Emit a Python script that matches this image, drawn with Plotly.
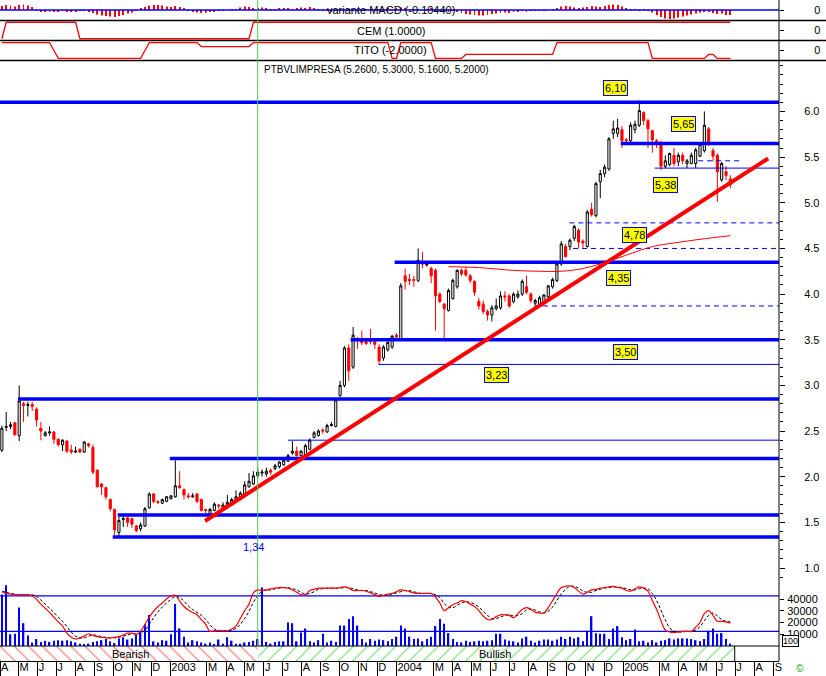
import pandas as pd
import plotly.graph_objects as go

# ------------------------------------------------------------------ data
week_start = "2002-04-04"          # first weekly candle

opens = [
    2.29, 2.54, 2.55, 2.59, 2.45, 2.80, 2.78, 2.79, 2.74, 2.53,
    2.45, 2.48, 2.49, 2.41, 2.35, 2.39, 2.29, 2.27, 2.30, 2.27,
    2.36, 2.32, 2.07, 1.92, 1.88, 1.75, 1.64, 1.39, 1.53, 1.55,
    1.54, 1.46, 1.43, 1.46, 1.66, 1.81, 1.73, 1.71, 1.73, 1.76,
    1.78, 1.90, 1.86, 1.79, 1.78, 1.81, 1.75, 1.64, 1.59, 1.63,
    1.69, 1.65, 1.68, 1.70, 1.73, 1.78, 1.81, 1.89, 1.92, 2.01,
    2.04, 2.03, 2.07, 2.09, 2.11, 2.13, 2.17, 2.26, 2.28, 2.23,
    2.23, 2.30, 2.43, 2.45, 2.51, 2.49, 2.56, 2.55, 2.89, 3.00,
    3.41, 3.20, 3.50, 3.49, 3.48, 3.49, 3.48, 3.42, 3.30, 3.39,
    3.42, 3.55, 3.51, 4.20, 4.16, 4.16, 4.15, 4.34, 4.32, 4.28,
    4.26, 4.00, 3.89, 3.82, 3.95, 4.08, 4.26, 4.26, 4.20, 4.14,
    3.92, 3.89, 3.81, 3.77, 3.84, 3.85, 3.98, 3.98, 3.92, 3.97,
    4.00, 4.08, 4.00, 3.90, 3.88, 3.90, 3.97, 4.08, 4.15, 4.33,
    4.52, 4.52, 4.61, 4.70, 4.58, 4.52, 4.93, 4.86, 5.23, 5.32,
    5.37, 5.76, 5.76, 5.80, 5.69, 5.68, 5.80, 5.85, 5.99, 5.90,
    5.79, 5.68, 5.66, 5.40, 5.42, 5.52, 5.45, 5.52, 5.43, 5.43,
    5.43, 5.51, 5.57, 5.81, 5.57, 5.52, 5.25, 5.34, 5.26]
highs = [
    2.56, 2.71, 2.60, 2.60, 3.00, 2.82, 2.82, 2.82, 2.76, 2.60,
    2.50, 2.55, 2.50, 2.42, 2.41, 2.40, 2.35, 2.33, 2.31, 2.39,
    2.37, 2.35, 2.08, 1.93, 1.89, 1.76, 1.65, 1.56, 1.57, 1.56,
    1.55, 1.47, 1.50, 1.67, 1.83, 1.82, 1.74, 1.76, 1.79, 1.80,
    2.18, 2.06, 1.87, 1.82, 1.82, 1.82, 1.76, 1.65, 1.66, 1.72,
    1.70, 1.72, 1.80, 1.77, 1.85, 1.84, 1.95, 2.04, 2.06, 2.10,
    2.08, 2.10, 2.09, 2.14, 2.17, 2.20, 2.25, 2.39, 2.33, 2.29,
    2.36, 2.42, 2.50, 2.52, 2.53, 2.58, 2.60, 2.86, 3.05, 3.43,
    3.45, 3.64, 3.53, 3.60, 3.51, 3.62, 3.50, 3.45, 3.44, 3.49,
    3.55, 3.57, 4.12, 4.28, 4.22, 4.20, 4.50, 4.46, 4.36, 4.30,
    4.28, 4.02, 3.90, 4.06, 4.17, 4.27, 4.28, 4.30, 4.22, 4.15,
    3.96, 3.93, 3.83, 3.88, 3.95, 4.03, 4.03, 4.00, 4.02, 4.04,
    4.16, 4.20, 4.02, 3.95, 3.98, 4.00, 4.10, 4.18, 4.35, 4.58,
    4.55, 4.61, 4.76, 4.72, 4.60, 4.92, 5.00, 5.23, 5.36, 5.42,
    5.72, 5.90, 5.92, 5.84, 5.71, 5.88, 5.90, 6.12, 6.00, 5.92,
    5.80, 5.70, 5.68, 5.52, 5.55, 5.60, 5.55, 5.55, 5.48, 5.55,
    5.60, 5.66, 6.00, 5.83, 5.60, 5.54, 5.45, 5.40, 5.30]
lows = [
    2.27, 2.50, 2.52, 2.45, 2.39, 2.60, 2.66, 2.72, 2.55, 2.40,
    2.44, 2.45, 2.36, 2.33, 2.28, 2.26, 2.25, 2.26, 2.26, 2.26,
    2.32, 2.03, 1.88, 1.80, 1.75, 1.62, 1.36, 1.34, 1.45, 1.45,
    1.44, 1.39, 1.40, 1.45, 1.65, 1.71, 1.70, 1.70, 1.72, 1.75,
    1.77, 1.87, 1.75, 1.76, 1.77, 1.71, 1.62, 1.60, 1.58, 1.62,
    1.65, 1.64, 1.67, 1.69, 1.72, 1.77, 1.80, 1.88, 1.91, 1.98,
    2.00, 2.00, 2.02, 2.07, 2.09, 2.12, 2.16, 2.24, 2.22, 2.22,
    2.22, 2.29, 2.42, 2.44, 2.47, 2.48, 2.55, 2.54, 2.87, 2.98,
    3.05, 3.18, 3.40, 3.44, 3.44, 3.45, 3.40, 3.23, 3.27, 3.37,
    3.40, 3.50, 3.50, 4.05, 4.10, 4.08, 4.13, 4.28, 4.30, 4.12,
    3.60, 3.90, 3.51, 3.81, 3.94, 4.06, 4.20, 4.19, 4.12, 3.98,
    3.83, 3.78, 3.71, 3.70, 3.82, 3.83, 3.92, 3.85, 3.90, 3.95,
    3.98, 4.00, 3.90, 3.88, 3.87, 3.89, 3.95, 4.06, 4.13, 4.31,
    4.40, 4.48, 4.58, 4.50, 4.50, 4.51, 4.85, 4.84, 5.05, 5.28,
    5.35, 5.70, 5.72, 5.60, 5.63, 5.64, 5.76, 5.83, 5.85, 5.60,
    5.55, 5.60, 5.36, 5.38, 5.40, 5.40, 5.40, 5.42, 5.38, 5.42,
    5.38, 5.50, 5.55, 5.62, 5.45, 5.01, 5.23, 5.25, 5.16]
closes = [
    2.53, 2.55, 2.57, 2.46, 2.83, 2.78, 2.79, 2.77, 2.62, 2.50,
    2.48, 2.49, 2.41, 2.35, 2.40, 2.28, 2.27, 2.28, 2.27, 2.38,
    2.34, 2.05, 1.89, 1.89, 1.78, 1.65, 1.42, 1.52, 1.54, 1.50,
    1.48, 1.41, 1.47, 1.65, 1.81, 1.73, 1.72, 1.75, 1.78, 1.79,
    1.90, 1.88, 1.80, 1.78, 1.79, 1.73, 1.63, 1.63, 1.64, 1.70,
    1.68, 1.69, 1.72, 1.75, 1.78, 1.82, 1.91, 1.95, 2.01, 2.05,
    2.05, 2.06, 2.05, 2.12, 2.16, 2.18, 2.23, 2.28, 2.23, 2.28,
    2.34, 2.40, 2.48, 2.50, 2.50, 2.56, 2.57, 2.84, 3.00, 3.41,
    3.16, 3.55, 3.49, 3.47, 3.46, 3.48, 3.45, 3.27, 3.42, 3.47,
    3.54, 3.53, 4.09, 4.14, 4.15, 4.15, 4.37, 4.33, 4.33, 4.20,
    3.98, 3.92, 3.84, 4.04, 4.15, 4.26, 4.22, 4.21, 4.15, 4.02,
    3.87, 3.81, 3.77, 3.85, 3.87, 3.98, 3.97, 3.87, 4.00, 4.00,
    4.14, 4.02, 3.93, 3.93, 3.96, 3.99, 4.09, 4.16, 4.33, 4.55,
    4.41, 4.59, 4.74, 4.57, 4.56, 4.90, 4.87, 5.21, 5.32, 5.39,
    5.70, 5.81, 5.82, 5.68, 5.68, 5.85, 5.86, 6.01, 5.90, 5.81,
    5.69, 5.65, 5.40, 5.46, 5.54, 5.43, 5.52, 5.46, 5.46, 5.52,
    5.58, 5.64, 5.85, 5.67, 5.51, 5.34, 5.43, 5.30, 5.20]

volume = [
    44000, 52000, 10000, 10500, 33000, 19500, 9000, 3000, 6000, 3500,
    4500, 3500, 4500, 5000, 4500, 5000, 4000, 3000, 2000, 1500,
    2000, 3500, 4000, 5000, 6000, 4000, 2500, 6500, 7500, 5500,
    6500, 9500, 13000, 18500, 26500, 4000, 3000, 5000, 4500, 10000,
    36000, 15000, 8000, 3000, 5000, 4000, 3000, 2000, 3000, 1500,
    5500, 2000, 7500, 4500, 2000, 2000, 3000, 3500, 4500, 6000,
    50000, 3500, 2000, 3500, 4000, 4000, 20000, 19500, 4000, 11500,
    15000, 4000, 3000, 5000, 10500, 3000, 4500, 3500, 17500, 17500,
    23000, 25500, 17500, 6000, 3000, 6000, 4500, 5500, 5000, 4000,
    6000, 8000, 17500, 15000, 8000, 6000, 6500, 4000, 6000, 8000,
    17000, 23000, 19000, 11000, 6000, 3500, 3000, 4500, 3500, 4000,
    4500, 4000, 4500, 5000, 10500, 10500, 5500, 4500, 4000, 3000,
    6500, 8000, 4500, 3000, 4500, 5500, 5500, 4500, 5500, 8000,
    6000, 8000, 6500, 7500, 4000, 13000, 25500, 11000, 10500, 10500,
    6000, 15000, 17000, 7500, 5000, 6000, 14000, 4000, 4500, 3000,
    5000, 3000, 4500, 5000, 6500, 5500, 6500, 6500, 6500, 6000,
    5000, 4000, 6000, 13000, 15000, 10500, 11000, 6000, 2000]

stoch_k = [
    87, 84, 83, 82, 82, 82, 82, 80, 74, 66,
    59, 52, 44, 36, 29, 17, 10, 7, 9, 12,
    16, 13, 11, 10, 9, 9, 10, 11, 14, 17,
    17, 15, 20, 32, 44, 54, 62, 68, 75, 80,
    81, 71, 62, 56, 52, 48, 40, 32, 20, 21,
    21, 21, 21, 24, 29, 42, 55, 66, 85, 90,
    89, 90, 92, 93, 94, 94, 93, 90, 86, 82,
    82, 89, 91, 93, 93, 93, 93, 93, 94, 95,
    93, 89, 89, 89, 88, 85, 82, 79, 81, 83,
    84, 87, 90, 89, 87, 85, 84, 84, 84, 84,
    78, 68, 55, 60, 65, 68, 72, 70, 66, 62,
    55, 46, 40, 40, 45, 48, 48, 47, 43, 50,
    57, 60, 57, 52, 51, 51, 60, 72, 84, 94,
    96, 97, 94, 88, 83, 86, 90, 91, 93, 94,
    95, 96, 94, 93, 89, 88, 92, 95, 93, 88,
    72, 57, 38, 22, 19, 18, 19, 20, 20, 20,
    27, 35, 50, 55, 47, 37, 37, 36, 34]
stoch_d = [
    88, 86, 84, 83, 82, 82, 82, 82, 79, 73,
    66, 59, 52, 44, 37, 28, 19, 12, 9, 9,
    12, 14, 13, 11, 10, 9, 9, 10, 12, 14,
    16, 16, 17, 22, 32, 43, 53, 61, 68, 74,
    79, 77, 71, 63, 57, 52, 47, 40, 31, 24,
    21, 21, 21, 22, 25, 32, 42, 54, 69, 80,
    88, 90, 90, 92, 93, 94, 94, 92, 90, 86,
    83, 84, 87, 91, 92, 93, 93, 93, 93, 94,
    94, 92, 90, 89, 89, 87, 85, 82, 81, 81,
    83, 85, 87, 89, 89, 87, 85, 84, 84, 84,
    82, 77, 67, 61, 60, 64, 68, 70, 69, 66,
    61, 54, 47, 42, 42, 44, 47, 48, 46, 47,
    50, 56, 58, 56, 53, 51, 54, 61, 72, 83,
    91, 96, 96, 93, 88, 86, 86, 89, 91, 93,
    94, 95, 95, 94, 92, 90, 90, 92, 93, 92,
    84, 72, 56, 39, 26, 20, 19, 19, 20, 20,
    22, 28, 38, 47, 51, 46, 40, 37, 36]
stoch_levels = [80, 20]

macd_hist = [
    0.08, 0.10, 0.09, 0.07, 0.10, 0.11, 0.09, 0.06,
    -0.02, -0.03, -0.04, -0.03, -0.04, -0.03, -0.02, -0.03, -0.04, -0.03, -0.02, -0.02, -0.03,
    -0.06, -0.09, -0.11, -0.12, -0.13, -0.14, -0.12, -0.10, -0.07, -0.05, -0.02,
    0.03, 0.06, 0.09, 0.10, 0.10, 0.09, 0.07, 0.06, 0.08, 0.06, 0.03,
    -0.02, -0.04, -0.05, -0.06, -0.05, -0.04, -0.03, -0.02, -0.01, 0.00, 0.01, 0.02,
    0.05, 0.07, 0.06, 0.04, 0.03, 0.05, 0.03, 0.02, 0.02, 0.03, 0.04, 0.03, 0.02, 0.03, 0.05, 0.04, 0.06, 0.04, 0.02,
    -0.01, -0.02, -0.03, -0.02, 0.01, 0.02, 0.01, -0.02, -0.03, -0.02, 0.01, 0.02,
    0.02, 0.01, 0.02, 0.03, 0.02, 0.04, 0.05, 0.04, 0.02, 0.01, 0.02, 0.01, 0.02, 0.03, 0.02, -0.01, -0.02, -0.03, -0.02,
    -0.04, -0.06, -0.08, -0.09, -0.10, -0.11, -0.11, -0.10, -0.08, -0.07, -0.06, -0.05, -0.06, -0.04, -0.03, -0.02, -0.03, -0.02,
    -0.01, -0.02, -0.01, 0.00, 0.02, 0.04,
    0.07, 0.08, 0.07, 0.05, 0.04, 0.05, 0.06, 0.08, 0.07, 0.06, 0.08, 0.10, 0.11, 0.10, 0.07, 0.04,
    0.02, 0.01, -0.01, 0.01, -0.02, -0.05,
    -0.10, -0.14, -0.17, -0.18, -0.17, -0.15, -0.13, -0.11, -0.09, -0.07, -0.05, -0.03,
    -0.04, -0.06, -0.08, -0.07, -0.10, -0.10]
macd_last = -0.10440

# (value, number of weeks)
cem_runs = [(-1, 1), (1, 17), (-1, 40), (1, 111)]
tito_runs = [(2, 12), (0, 1), (-2, 20), (0, 1), (2, 12), (1, 12), (2, 32), (-2, 2),
             (2, 8), (-2, 7), (-1, 21), (2, 22), (-2, 13), (-1, 2), (-2, 4)]

# long moving average (sparse readings: week index, value)
ma_weeks = [103, 110, 118, 124, 129, 134, 140, 143, 150, 155, 161, 168]
ma_vals = [4.30, 4.29, 4.26, 4.25, 4.25, 4.28, 4.36, 4.41, 4.52, 4.56, 4.60, 4.64]

# trend line
trend_dates = ["2003-02-26", "2005-08-23"]
trend_prices = [1.515, 5.485]

# horizontal support / resistance levels
levels = [6.10, 5.65, 5.38, 5.46, 4.78, 4.50, 4.35, 3.87, 3.50, 3.23, 2.85, 2.40, 2.20, 1.58, 1.34]
level_start = ["2002-04-01", "2004-12-28", "2005-02-21", "2005-05-02", "2004-10-06", "2004-10-12",
               "2003-12-29", "2004-08-10", "2003-10-19", "2003-12-03", "2002-04-30", "2003-07-10",
               "2002-12-31", "2002-10-08", "2002-09-30"]
level_end = [None, None, None, "2005-07-12", None, None, None, None, None, None, None, None, None, None, None]
level_kind = ["thick", "thick", "thin", "dash", "dash", "dash", "thick", "dash", "thick", "thin",
              "thick", "thin", "thick", "thick", "thick"]

box_labels = ["6,10", "5,65", "5,38", "4,78", "4,35", "3,50", "3,23"]
box_dates = ["2004-12-19", "2005-04-09", "2005-03-11", "2005-01-20", "2004-12-24", "2005-01-05", "2004-06-11"]
box_prices = [6.257, 5.863, 5.195, 4.647, 4.176, 3.366, 3.114]

price_ticks = [1.0, 1.5, 2.0, 2.5, 3.0, 3.5, 4.0, 4.5, 5.0, 5.5, 6.0]
volume_ticks = [10000, 20000, 30000, 40000]

month_labels = ["A", "M", "J", "J", "A", "S", "O", "N", "D", "2003", "M", "A", "M", "J", "J", "A",
                "S", "O", "N", "D", "2004", "M", "A", "M", "J", "J", "A", "S", "O", "N", "D",
                "2005", "M", "A", "M", "J", "J", "A", "S"]

marker_date = "2003-05-22"
regime_bounds = ["2002-04-01", "2003-05-22", "2005-06-30"]
regime_names = ["Bearish", "Bullish"]
regime_label_dates = ["2002-10-28", "2004-06-08"]

X0, X1 = "2002-04-01", "2005-09-09 12:00"

# ------------------------------------------------------------------ checks
n = len(closes)
for name, arr in [("opens", opens), ("highs", highs), ("lows", lows), ("volume", volume),
                  ("stoch_k", stoch_k), ("stoch_d", stoch_d), ("macd", macd_hist)]:
    if len(arr) != n:
        raise SystemExit(f"length mismatch {name}: {len(arr)} vs {n}")


def expand(runs):
    out = []
    for v, k in runs:
        out += [v] * k
    return out


cem = expand(cem_runs)
tito = expand(tito_runs)
dates = pd.date_range(week_start, periods=n, freq="7D")
month_ticks = [d for d in pd.date_range("2002-04-01", "2005-09-01", freq="MS") if d.month != 2]

W, H = 826, 676
PLOT_W = 779
DAY = 86400000


def py(px):
    return 1 - px / H


RED = "#ff0000"
BLUE = "#0000ff"
FONT = "Liberation Sans, Arial, sans-serif"

fig = go.Figure()

# ---- top panels
fig.add_trace(go.Scatter(x=[X0, X1], y=[0, 0], yaxis="y2", mode="lines",
                         line=dict(color=BLUE, width=1.5), hoverinfo="skip"))
fig.add_trace(go.Bar(x=dates, y=macd_hist, yaxis="y2", width=1.4 * DAY,
                     marker=dict(color=RED, line=dict(width=0))))
fig.add_trace(go.Scatter(x=dates, y=cem, yaxis="y3", mode="lines", line=dict(color=RED, width=1.3)))
fig.add_trace(go.Scatter(x=dates, y=tito, yaxis="y4", mode="lines", line=dict(color=RED, width=1.3)))

# ---- price panel
fig.add_trace(go.Candlestick(
    x=dates, open=opens, high=highs, low=lows, close=closes, yaxis="y",
    increasing=dict(line=dict(color="black", width=1), fillcolor="white"),
    decreasing=dict(line=dict(color=RED, width=1), fillcolor=RED),
    whiskerwidth=0))

for lvl, s, e, kind in zip(levels, level_start, level_end, level_kind):
    if kind == "thick":
        ln = dict(color=BLUE, width=3.5)
    elif kind == "thin":
        ln = dict(color=BLUE, width=1)
    else:
        ln = dict(color=BLUE, width=1, dash="5px,4px")
    fig.add_trace(go.Scatter(x=[s, e or X1], y=[lvl, lvl], mode="lines", line=ln, yaxis="y"))

fig.add_trace(go.Scatter(x=dates[ma_weeks], y=ma_vals, mode="lines", yaxis="y",
                         line=dict(color=RED, width=1, shape="spline")))
fig.add_trace(go.Scatter(x=trend_dates, y=trend_prices, mode="lines", yaxis="y",
                         line=dict(color=RED, width=4)))

# ---- volume + stochastic
fig.add_trace(go.Bar(x=dates, y=volume, yaxis="y5", width=2.4 * DAY,
                     marker=dict(color=BLUE, line=dict(width=0))))
for lv in stoch_levels:
    fig.add_trace(go.Scatter(x=[X0, X1], y=[lv, lv], yaxis="y6", mode="lines",
                             line=dict(color=BLUE, width=1.2)))
fig.add_trace(go.Scatter(x=dates, y=stoch_d, yaxis="y6", mode="lines",
                         line=dict(color="black", width=1, dash="3px,2px", shape="spline")))
fig.add_trace(go.Scatter(x=dates, y=stoch_k, yaxis="y6", mode="lines",
                         line=dict(color=RED, width=1.2, shape="spline")))

# ---- regime band
patterns = [dict(shape="\\", fgcolor=RED, bgcolor="white", size=10, solidity=0.12),
            dict(shape="/", fgcolor="#00c000", bgcolor="white", size=10, solidity=0.12)]
for i in range(2):
    fig.add_trace(go.Scatter(x=[regime_bounds[i], regime_bounds[i + 1]], y=[1, 1],
                             xaxis="x2", yaxis="y7", mode="lines", line=dict(width=0),
                             fill="tozeroy", fillpattern=patterns[i], fillcolor="white"))

tick_common = dict(ticks="outside", tickcolor="black", tickwidth=1, ticklen=4,
                   showgrid=False, zeroline=False, showline=False,
                   tickfont=dict(family=FONT, size=11, color="black"), fixedrange=True)

fig.update_layout(
    width=W, height=H, margin=dict(l=0, r=W - PLOT_W, t=0, b=0, autoexpand=False),
    paper_bgcolor="white", plot_bgcolor="white", showlegend=False,
    font=dict(family=FONT, size=11, color="black"),
    xaxis=dict(domain=[0, 1], range=[X0, X1], type="date", anchor="y", showticklabels=False,
               showgrid=False, zeroline=False, showline=False, ticks="",
               rangeslider=dict(visible=False), fixedrange=True),
    xaxis2=dict(matches="x", anchor="y7", type="date", range=[X0, X1],
                tickmode="array", tickvals=month_ticks, ticktext=month_labels, tickangle=0,
                ticks="outside", ticklen=15, tickcolor="black", tickwidth=1,
                showline=True, linecolor="black", linewidth=1, showgrid=False, zeroline=False,
                ticklabelposition="outside right", ticklabelstandoff=-4,
                tickfont=dict(family=FONT, size=11, color="black"), fixedrange=True),
    yaxis=dict(domain=[py(584), py(61)], range=[0.8248, 6.553], side="right", anchor="x",
               tickmode="array", tickvals=price_ticks, ticktext=[f"{v:.1f}" for v in price_ticks],
               ticklabelstandoff=17, minor=dict(tickmode="linear", tick0=0, dtick=0.1, ticks="outside",
                                                ticklen=3, tickcolor="black"),
               **{**tick_common, "ticklen": 5}),
    yaxis2=dict(domain=[py(20), 1], range=[-0.2, 0.2], side="right", anchor="x",
                tickmode="array", tickvals=[0], ticktext=["0"], ticklabelstandoff=28, **tick_common),
    yaxis3=dict(domain=[py(40), py(21)], range=[-1.15, 1.15], side="right", anchor="x",
                tickmode="array", tickvals=[0], ticktext=["0"], ticklabelstandoff=28, **tick_common),
    yaxis4=dict(domain=[py(60), py(41)], range=[-2.4, 2.4], side="right", anchor="x",
                tickmode="array", tickvals=[0], ticktext=["0"], ticklabelstandoff=28, **tick_common),
    yaxis5=dict(domain=[py(646), py(584)], range=[0, 53000], side="right", anchor="x",
                tickmode="array", tickvals=volume_ticks, ticktext=[str(v) for v in volume_ticks],
                ticklabelstandoff=1, **tick_common),
    yaxis6=dict(overlaying="y5", range=[-4.7, 100], visible=False, fixedrange=True),
    yaxis7=dict(domain=[py(661), py(646)], range=[0, 1], visible=False, fixedrange=True),
)

# ---- frame lines
shapes = []
for px in [20.5, 40.5, 60.5]:
    shapes.append(dict(type="line", xref="paper", yref="paper", x0=0, x1=W / PLOT_W,
                       y0=py(px), y1=py(px), line=dict(color="black", width=1.5)))
shapes.append(dict(type="line", xref="paper", yref="paper", x0=0, x1=1,
                   y0=py(646), y1=py(646), line=dict(color="black", width=1)))
shapes.append(dict(type="line", xref="paper", yref="paper", x0=1, x1=1,
                   y0=py(661), y1=1, line=dict(color="black", width=1)))
shapes.append(dict(type="line", xref="x", yref="paper", x0=marker_date, x1=marker_date,
                   y0=py(646), y1=1, line=dict(color="#44cc44", width=1)))
shapes.append(dict(type="line", xref="x", yref="paper", x0=regime_bounds[-1], x1=regime_bounds[-1],
                   y0=py(661), y1=py(646), line=dict(color="black", width=1)))
fig.update_layout(shapes=shapes)

# ---- texts
C = dict(xanchor="center", yanchor="middle", showarrow=False)
ann = []
title = f"PTBVLIMPRESA ({opens[-1]:.4f}, {highs[-1]:.4f}, {lows[-1]:.4f}, {closes[-1]:.4f})"
ann.append(dict(text=title, xref="paper", yref="paper", x=376 / PLOT_W, y=py(70),
                font=dict(size=10, color="black"), **C))
for txt, ypx in [(f"variante MACD ({macd_last:.5f})", 10), (f"CEM ({cem[-1]:.4f})", 31),
                 (f"TITO ({tito[-1]:.4f})", 50)]:
    ann.append(dict(text=txt, xref="paper", yref="paper", x=391 / PLOT_W, y=py(ypx),
                    font=dict(size=11, color="black"), **C))
for t, d, p in zip(box_labels, box_dates, box_prices):
    ann.append(dict(text=t, x=d, y=p, xref="x", yref="y",
                    bgcolor="#ffff00", bordercolor=BLUE, borderwidth=1, borderpad=1,
                    font=dict(size=11, color="black"), **C))
ann.append(dict(text="1,34", x="2003-05-16", y=1.23, xref="x", yref="y",
                font=dict(size=11, color=BLUE), **C))
for name, d in zip(regime_names, regime_label_dates):
    ann.append(dict(text=name, x=d, y=0.5, xref="x2", yref="y7",
                    font=dict(size=11, color="black"), **C))
ann.append(dict(text="100", xref="paper", yref="paper", x=790 / PLOT_W, y=py(641),
                bordercolor="black", borderwidth=1, borderpad=0, bgcolor="white",
                font=dict(size=9, color="black"), **C))
ann.append(dict(text="©", xref="paper", yref="paper", x=800 / PLOT_W, y=py(668),
                font=dict(size=10, color="#00aa00"), **C))
fig.update_layout(annotations=ann)

fig.write_html("out.html", config={"displayModeBar": False},
               post_script="document.body.style.margin='0';document.body.style.padding='0';"
                           "document.documentElement.style.overflow='hidden';")
